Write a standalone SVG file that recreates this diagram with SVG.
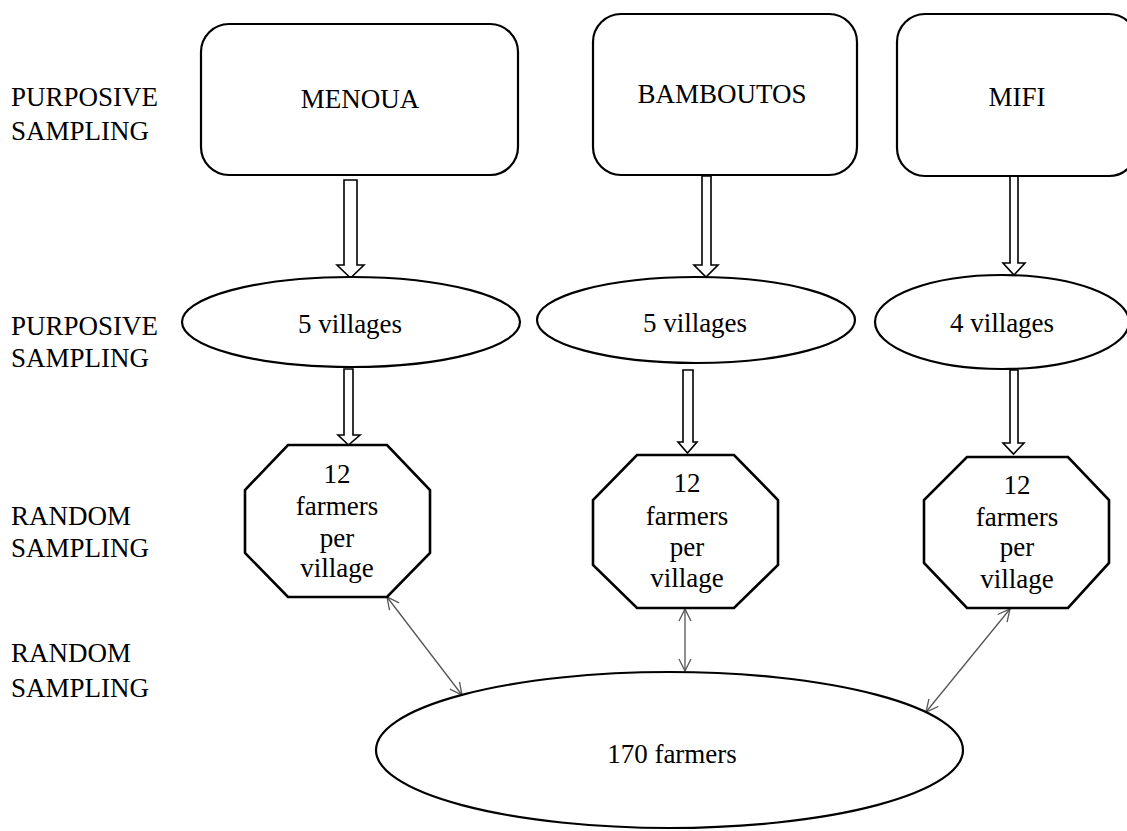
<svg xmlns="http://www.w3.org/2000/svg" width="1127" height="831" viewBox="0 0 1127 831">
<style>
text{font-family:"Liberation Serif","Times New Roman",serif;font-size:27px;fill:#000}
.c{text-anchor:middle}
.box{fill:#fff;stroke:#000;stroke-width:2.2}
.oct{fill:#fff;stroke:#000;stroke-width:2.6}
.blk{fill:#fff;stroke:#000;stroke-width:1.6}
.thin{fill:none;stroke:#555;stroke-width:1.3;marker-start:url(#v);marker-end:url(#v)}
</style>
<defs>
<marker id="v" viewBox="0 0 14 14" refX="13" refY="7" markerWidth="14" markerHeight="14" markerUnits="userSpaceOnUse" orient="auto-start-reverse">
<path d="M1,1 L13,7 L1,13" fill="none" stroke="#555" stroke-width="1.3"/>
</marker>
</defs>
<rect width="1127" height="831" fill="#fff"/>
<g id="labels">
<text x="11" y="106">PURPOSIVE</text>
<text x="11" y="140">SAMPLING</text>
<text x="11" y="335">PURPOSIVE</text>
<text x="11" y="367">SAMPLING</text>
<text x="11" y="525">RANDOM</text>
<text x="11" y="557">SAMPLING</text>
<text x="11" y="662">RANDOM</text>
<text x="11" y="697">SAMPLING</text>
</g>
<g id="connectors">
<polygon class="blk" points="344,180 357,180 357,265 364,265 350.5,278 337,265 344,265"/>
<polygon class="blk" points="344,369 353,369 353,435 360,435 348.5,445 338,435 344,435"/>
<polygon class="blk" points="702,176 711,176 711,265 718,265 706,277 694,265 702,265"/>
<polygon class="blk" points="683,370 693,370 693,442 697,442 687.5,453 678,442 683,442"/>
<polygon class="blk" points="1010,176 1018,176 1018,263 1025,263 1014,275 1003,263 1010,263"/>
<polygon class="blk" points="1010,370 1018,370 1018,443 1024,443 1013.5,454 1003,443 1010,443"/>
<line class="thin" x1="387" y1="597" x2="462" y2="695"/>
<line class="thin" x1="685" y1="609" x2="685" y2="671"/>
<line class="thin" x1="1010" y1="609" x2="926" y2="712"/>
</g>
<g id="menoua">
<rect class="box" x="201" y="24" width="317" height="151" rx="28"/>
<text class="c" x="360" y="108">MENOUA</text>
</g>
<g id="bamboutos">
<rect class="box" x="593" y="14" width="264" height="161" rx="28"/>
<text class="c" x="722" y="103">BAMBOUTOS</text>
</g>
<g id="mifi">
<rect class="box" x="897" y="14" width="240" height="162" rx="28"/>
<text class="c" x="1017" y="106">MIFI</text>
</g>
<g id="villages-menoua">
<ellipse class="box" cx="351" cy="322" rx="169" ry="45"/>
<text class="c" x="350" y="333">5 villages</text>
</g>
<g id="villages-bamboutos">
<ellipse class="box" cx="696" cy="320" rx="159" ry="43"/>
<text class="c" x="695" y="332">5 villages</text>
</g>
<g id="villages-mifi">
<ellipse class="box" cx="1002" cy="322" rx="127" ry="47"/>
<text class="c" x="1002" y="332">4 villages</text>
</g>
<g id="farmers-menoua">
<polygon class="oct" points="288,445 387,445 430,490 430,553 387,597 288,597 245,553 245,490"/>
<text class="c" x="337" y="483">12</text>
<text class="c" x="337" y="515">farmers</text>
<text class="c" x="337" y="547">per</text>
<text class="c" x="337" y="577">village</text>
</g>
<g id="farmers-bamboutos">
<polygon class="oct" points="637,455 734,455 778,500 778,565 734,608 637,608 593,565 593,500"/>
<text class="c" x="687" y="492">12</text>
<text class="c" x="687" y="525">farmers</text>
<text class="c" x="687" y="556">per</text>
<text class="c" x="687" y="587">village</text>
</g>
<g id="farmers-mifi">
<polygon class="oct" points="967,457 1068,457 1109,500 1109,563 1068,608 967,608 924,563 924,500"/>
<text class="c" x="1017" y="494">12</text>
<text class="c" x="1017" y="526">farmers</text>
<text class="c" x="1017" y="556">per</text>
<text class="c" x="1017" y="588">village</text>
</g>
<g id="total">
<ellipse class="box" cx="669.5" cy="750" rx="293.5" ry="78"/>
<text class="c" x="672" y="763">170 farmers</text>
</g>
</svg>
